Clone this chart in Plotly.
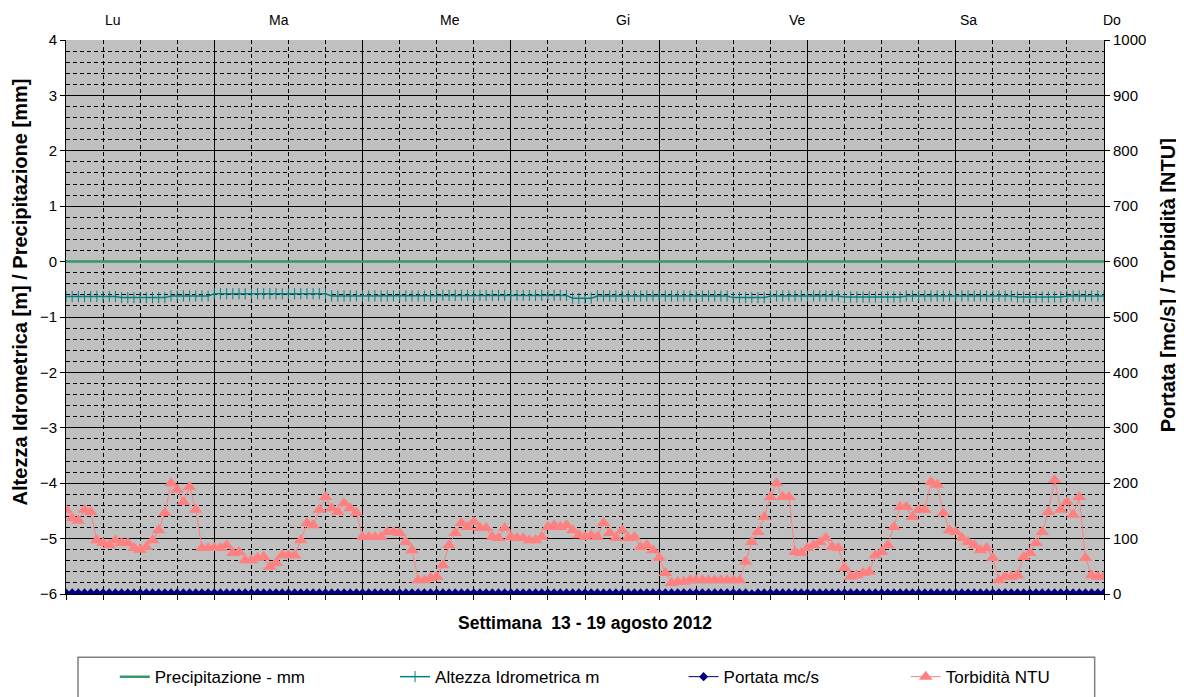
import plotly.graph_objects as go
import pandas as pd

# hourly readings, 13 Aug 2012 00:00 -> 20 Aug 2012 00:00
ore = pd.date_range("2012-08-13 00:00", "2012-08-20 00:00", freq="h")

giorni = ["Lu", "Ma", "Me", "Gi", "Ve", "Sa", "Do"]

precipitazione = [0.0] * 169

altezza = (
    [-0.63] * 9 + [-0.65] * 8 + [-0.62] * 7
    + [-0.58] * 19 + [-0.62] * 5
    + [-0.62] * 12 + [-0.61] * 12
    + [-0.61] * 10 + [-0.66] * 4 + [-0.62] * 10
    + [-0.62] * 12 + [-0.65] * 6 + [-0.62] * 6
    + [-0.62] * 6 + [-0.64] * 10 + [-0.62] * 8
    + [-0.62] * 10 + [-0.64] * 8 + [-0.62] * 7
)

portata = [2.0] * 111 + [0.5] + [2.0] * 57

torbidita = [
    # Lu
    152, 137, 132, 152, 148, 97, 92, 88, 97, 92, 92, 83,
    80, 85, 97, 115, 146, 200, 188, 166, 193, 152, 83, 83,
    # Ma
    83, 83, 88, 74, 76, 61, 61, 65, 67, 49, 56, 70,
    70, 70, 97, 128, 124, 152, 175, 155, 148, 164, 155, 146,
    # Me
    103, 103, 103, 103, 112, 112, 110, 94, 79, 25, 25, 29,
    31, 52, 88, 110, 128, 121, 130, 119, 119, 103, 101, 119,
    # Gi
    103, 101, 101, 97, 97, 103, 121, 124, 121, 124, 115, 106,
    103, 106, 103, 128, 110, 101, 115, 101, 103, 85, 88, 79,
    # Ve
    65, 38, 20, 22, 22, 25, 25, 25, 25, 25, 25, 25,
    25, 25, 58, 94, 112, 139, 175, 200, 175, 175, 76, 74,
    # Sa
    83, 88, 94, 101, 85, 83, 47, 31, 34, 38, 40, 70,
    76, 88, 121, 157, 157, 139, 152, 152, 202, 197, 146, 115,
    # Do
    112, 101, 94, 88, 79, 83, 65, 25, 31, 31, 34, 67,
    74, 92, 112, 148, 206, 152, 166, 143, 175, 65, 34, 31, 31,
]

FONT = "Liberation Sans, Arial, sans-serif"

fig = go.Figure()

fig.add_trace(go.Scatter(
    x=ore, y=precipitazione, name="Precipitazione - mm",
    mode="lines", line=dict(color="#339966", width=2.5),
    legend="legend", showlegend=True, hoverinfo="skip"
))
fig.add_trace(go.Scatter(
    x=ore, y=altezza, name="Altezza Idrometrica m",
    mode="lines+markers", line=dict(color="#008080", width=1.5),
    marker=dict(symbol="line-ns", size=8, line=dict(color="#008080", width=1)),
    legend="legend2", showlegend=True
))
fig.add_trace(go.Scatter(
    x=ore, y=portata, name="Portata mc/s", yaxis="y2",
    mode="lines+markers", line=dict(color="#000080", width=1),
    marker=dict(symbol="diamond", size=7, color="#000080"),
    legend="legend3", showlegend=True
))
fig.add_trace(go.Scatter(
    x=ore, y=torbidita, name="Torbidità NTU", yaxis="y2",
    mode="lines+markers", line=dict(color="#FF8080", width=1),
    marker=dict(symbol="triangle-up", size=12, color="#FF8080"),
    legend="legend4", showlegend=True
))

grid_dash = "4px,3px"

# the page body adds an 8px offset, so the figure is a bit smaller than the window
fig.update_layout(
    width=1176, height=689,
    margin=dict(l=58, r=80, t=32, b=103, autoexpand=False),
    showlegend=True,
    plot_bgcolor="#C0C0C0", paper_bgcolor="white",
    font=dict(family=FONT, size=15, color="black"),
    xaxis=dict(
        type="date", range=[ore[0], ore[-1]], automargin=False,
        tick0="2012-08-13", dtick=86400000,
        showgrid=True, gridcolor="black", gridwidth=1,
        showticklabels=False, ticks="outside", ticklen=5, tickcolor="black",
        showline=True, linecolor="black", linewidth=1, zeroline=False,
        minor=dict(dtick=21600000, showgrid=True, gridcolor="black",
                   griddash=grid_dash, gridwidth=1,
                   ticks="outside", ticklen=5, tickcolor="black"),
    ),
    yaxis=dict(
        range=[-6, 4], dtick=1, tick0=0, automargin=False,
        showgrid=True, gridcolor="black", gridwidth=1, zeroline=False,
        ticks="outside", ticklen=5, tickcolor="black",
        showline=True, linecolor="black", linewidth=1,
        minor=dict(dtick=0.2, showgrid=True, gridcolor="black",
                   griddash=grid_dash, gridwidth=1),
    ),
    yaxis2=dict(
        overlaying="y", side="right", anchor="x", automargin=False,
        range=[0, 1000], dtick=100, showgrid=False, zeroline=False,
        ticks="outside", ticklen=5, tickcolor="black",
        showline=True, linecolor="black", linewidth=1,
    ),
)

# legend: one small legend per series, laid out inside a single framed box
leg_common = dict(orientation="h", yanchor="middle", y=-0.15, xanchor="left",
                  bgcolor="rgba(0,0,0,0)", borderwidth=0, visible=True,
                  font=dict(family=FONT, size=17))
fig.update_layout(
    legend=dict(x=0.047, **leg_common),
    legend2=dict(x=0.317, **leg_common),
    legend3=dict(x=0.595, **leg_common),
    legend4=dict(x=0.809, **leg_common),
)
fig.add_shape(type="rect", xref="paper", yref="paper",
              x0=0.0116, x1=0.991, y0=-0.30, y1=-0.114,
              line=dict(color="#808080", width=1.5), fillcolor="white",
              layer="below")

# day names across the top
giorni_x = [0.045, 0.205, 0.370, 0.537, 0.705, 0.869, 1.008]
for g, gx in zip(giorni, giorni_x):
    fig.add_annotation(text=g, x=gx, y=1.036, xref="paper", yref="paper",
                       xanchor="center", yanchor="middle",
                       showarrow=False, font=dict(size=14))

fig.add_annotation(text="<b>Settimana  13 - 19 agosto 2012</b>",
                   x=0.5, y=-0.052, xref="paper", yref="paper",
                   xanchor="center", yanchor="middle",
                   showarrow=False, font=dict(size=17.5))
fig.add_annotation(text="<b>Altezza Idrometrica [m] / Precipitazione [mm]</b>",
                   x=-0.044, y=0.545, xref="paper", yref="paper",
                   xanchor="center", yanchor="middle",
                   textangle=-90, showarrow=False, font=dict(size=20))
fig.add_annotation(text="<b>Portata [mc/s] / Torbidità [NTU]</b>",
                   x=1.062, y=0.558, xref="paper", yref="paper",
                   xanchor="center", yanchor="middle",
                   textangle=-90, showarrow=False, font=dict(size=20))

fig.write_html("out.html")
